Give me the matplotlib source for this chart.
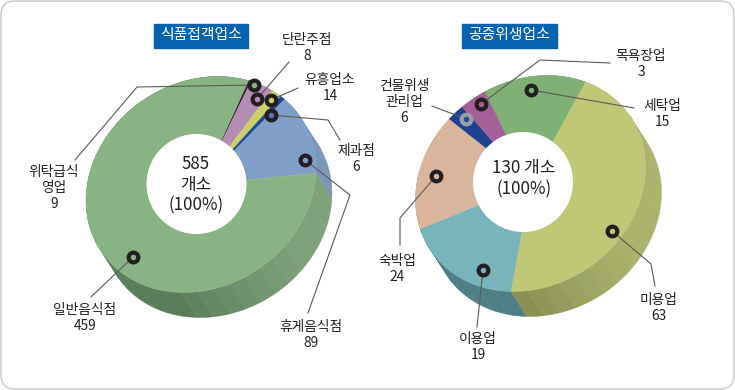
# -*- coding: utf-8 -*-
# Two fake-3D donuts with leader lines, drawn in pixel coordinates
import numpy as np
import matplotlib
matplotlib.use('Agg')
import matplotlib.pyplot as plt
from matplotlib.patches import FancyBboxPatch, Circle

plt.rcParams['font.family'] = ['Noto Sans CJK KR', 'DejaVu Sans']

# Left donut
food_title = '식품접객업소'
food_names = ['위탁급식\n영업', '단란주점', '유흥업소', '제과점', '휴게음식점', '일반음식점']
food_counts = [9, 8, 14, 6, 89, 459]
# the picture does not draw slices in proportion, so sweep is read off it (degrees, clockwise)
food_sweep = [1.2, 12.3, 5.8, 2.7, 45.9, 292.1]
food_start = 74
food_colors = ['#231f20', '#b48db5', '#cfcf6a', '#1f4b96', '#7f9fc8', '#88b484']
food_side = ['#231f20', '#8d6e8e', '#a3a352', '#1f3f78', '#7b96b8', '#7ea37a']
food_side_dark = ['#231f20', '#8d6e8e', '#a3a352', '#1f3f78', '#7b96b8', '#5a7d5a']

# Right donut
public_title = '공중위생업소'
public_names = ['세탁업', '미용업', '이용업', '숙박업', '건물위생\n관리업', '목욕장업']
public_counts = [15, 63, 19, 24, 6, 3]
public_sweep = [52.1, 161.3, 63.8, 61.6, 8.3, 12.9]
public_start = 122.1
public_colors = ['#80b174', '#c0c878', '#78b4bc', '#d9b59c', '#1f3f8f', '#a5609a']
public_side = ['#6a9460', '#abb36c', '#4f7e86', '#b89880', '#1f3f8f', '#8a5080']
public_side_dark = ['#6a9460', '#848a50', '#4f7e86', '#b89880', '#1f3f8f', '#8a5080']

BORDER = '#c8c8c8'
LEADER = '#5a5a5a'
RING = '#231f20'
DEPTH = (16, 25)
# the top faces are tilted ellipses, SHEAR moves the top to the right
RX, RY, SHEAR = 113.7, 108, 17


def arc(cx, cy, t0, t1):
    t = np.radians(np.linspace(t0, t1, max(int(abs(t1 - t0)), 2) + 1))
    return cx + RX * np.cos(t) + SHEAR * np.sin(t), cy - RY * np.sin(t)


def lerp_color(c0, c1, f):
    a, b = np.array(matplotlib.colors.to_rgb(c0)), np.array(matplotlib.colors.to_rgb(c1))
    return a + (b - a) * f


def donut(ax, cx, cy, hole, start, sweep, colors, side, side_dark):
    edges = start - np.concatenate([[0], np.cumsum(sweep)])
    # side wall first, in small facets, front ones last
    quads = []
    for i in range(len(sweep)):
        t0, t1 = edges[i], edges[i + 1]
        n = max(int((t0 - t1) / 8), 1)
        ts = np.linspace(t0, t1, n + 1)
        for a, b in zip(ts[:-1], ts[1:]):
            mid = (a + b) / 2
            depth = np.sin(np.radians(mid))
            # shade gets darker going from the right side to the bottom
            f = np.clip((np.cos(np.radians(mid)) * -1 + 0.9) / 1.0, 0, 1)
            quads.append((-depth, a, b, lerp_color(side[i], side_dark[i], f)))
    for _, a, b, col in sorted(quads, key=lambda q: q[0]):
        x0, y0 = arc(cx, cy, a, b)
        x1, y1 = x0 + DEPTH[0], y0 + DEPTH[1]
        ax.fill(np.r_[x0, x1[::-1]], np.r_[y0, y1[::-1]], color=col, lw=0.3, zorder=2)
    # top face
    for i in range(len(sweep)):
        x, y = arc(cx, cy, edges[i], edges[i + 1])
        ax.fill(np.r_[cx, x], np.r_[cy, y], color=colors[i], lw=0.2, zorder=3)
    ax.add_patch(Circle(hole, 50, fc='white', ec='none', zorder=4))


def leader(ax, pts, fill, ring=RING):
    xs, ys = zip(*pts)
    ax.plot(xs, ys, color=LEADER, lw=0.8, zorder=5)
    ax.plot(xs[0], ys[0], 'o', ms=7, mfc=fill, mec=ring, mew=3, zorder=6)


def label(ax, x, y, name, count):
    ax.text(x, y, f'{name}\n{count}', ha='center', va='center', fontsize=9.9,
            color='#231f20', linespacing=1.15, zorder=7)


def title_box(ax, x0, x1, text):
    ax.fill([x0, x1, x1, x0], [24, 24, 48, 48], color='#0563b0', zorder=3)
    ax.text((x0 + x1) / 2, 35.5, text, ha='center', va='center', fontsize=10.7,
            color='white', zorder=4)


fig = plt.figure(figsize=(7.35, 3.9), dpi=100, facecolor='white')
ax = fig.add_axes([0, 0, 1, 1])
ax.set_xlim(0, 735)
ax.set_ylim(390, 0)
ax.axis('off')
ax.add_patch(FancyBboxPatch((1, 1), 733, 388, boxstyle='round,pad=0,rounding_size=14',
                            fc='white', ec=BORDER, lw=1))

donut(ax, 201, 184.5, (196.5, 184), food_start, food_sweep, food_colors, food_side, food_side_dark)
donut(ax, 530.5, 183.5, (523, 182), public_start, public_sweep, public_colors, public_side, public_side_dark)

title_box(ax, 154, 248, food_title)
title_box(ax, 462, 557, public_title)

# leaders: ring first, then bends
leader(ax, [(254, 85), (137, 87), (75, 160)], '#88b484')
leader(ax, [(257, 99), (289, 62)], '#b48db5')
leader(ax, [(271, 100), (298, 88)], '#cfcf6a')
leader(ax, [(271, 115), (328, 120), (340, 140)], '#4a78b8')
leader(ax, [(305, 160), (350, 195), (308, 313)], '#7f9fc8')
leader(ax, [(133, 257), (91, 297)], '#88b484')
leader(ax, [(481, 104), (540, 60), (610, 63)], '#a5609a')
leader(ax, [(531, 90), (634, 108)], '#80b174')
leader(ax, [(612, 231), (651, 264), (655, 286)], '#c0c878')
leader(ax, [(483, 270), (477, 327)], '#78b4bc')
leader(ax, [(436, 176), (400, 218), (400, 245)], '#d9b59c')
leader(ax, [(466, 119), (432, 106)], '#1f4b96', ring='#9a9ea8')

label(ax, 54, 188, food_names[0], food_counts[0])
label(ax, 307, 48, food_names[1], food_counts[1])
label(ax, 330, 88, food_names[2], food_counts[2])
label(ax, 356, 159, food_names[3], food_counts[3])
label(ax, 311, 335, food_names[4], food_counts[4])
label(ax, 85, 318, food_names[5], food_counts[5])

label(ax, 662, 114, public_names[0], public_counts[0])
label(ax, 659, 308, public_names[1], public_counts[1])
label(ax, 478, 347, public_names[2], public_counts[2])
label(ax, 397, 269, public_names[3], public_counts[3])
label(ax, 404, 102, public_names[4], public_counts[4])
label(ax, 641, 64, public_names[5], public_counts[5])

ax.text(196, 185, f'{sum(food_counts)}\n개소\n(100%)', ha='center', va='center',
        fontsize=12.2, color='#231f20', linespacing=1.2, zorder=7)
ax.text(524, 179, f'{sum(public_counts)} 개소\n(100%)', ha='center', va='center',
        fontsize=12.2, color='#231f20', linespacing=1.25, zorder=7)

fig.savefig('out.png', dpi=100)
